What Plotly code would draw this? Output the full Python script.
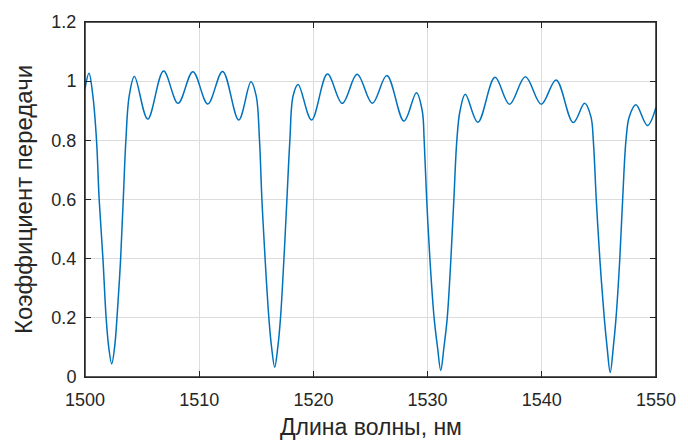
import plotly.graph_objects as go

wavelength = [
    1500.00, 1500.35, 1500.69, 1501.01, 1501.24, 1501.57, 1501.85, 1502.08, 1502.34,
    1502.59, 1502.80, 1503.12, 1503.35, 1503.58, 1503.87, 1504.33, 1505.49, 1506.88, 1508.15,
    1509.45, 1510.75, 1512.05, 1513.46, 1514.53, 1514.99, 1515.28, 1515.49, 1515.77,
    1516.10, 1516.34, 1516.61, 1516.88, 1517.12, 1517.42, 1517.68, 1517.94, 1518.22, 1518.66, 1519.84,
    1521.23, 1522.53, 1523.83, 1525.16, 1526.43, 1527.93, 1529.02, 1529.53, 1529.70,
    1529.92, 1530.20, 1530.57, 1530.87, 1531.15, 1531.43, 1531.72, 1532.04, 1532.30, 1532.56, 1532.84,
    1533.30, 1534.40, 1535.90, 1537.17, 1538.56, 1539.95, 1541.25, 1542.75,
    1543.75, 1544.30, 1544.51, 1544.77, 1545.08, 1545.47, 1545.72, 1545.99, 1546.26, 1546.50, 1546.83,
    1547.08, 1547.37, 1547.66, 1548.24, 1549.25, 1550.00,
]
transmission = [
    0.975, 1.027, 0.950, 0.800, 0.600, 0.400, 0.200, 0.100, 0.044,
    0.100, 0.200, 0.400, 0.600, 0.800, 0.950, 1.016, 0.872, 1.034, 0.925,
    1.032, 0.923, 1.033, 0.869, 0.998, 0.950, 0.800, 0.600, 0.400,
    0.200, 0.100, 0.033, 0.100, 0.200, 0.400, 0.600, 0.800, 0.950, 0.989, 0.869,
    1.024, 0.925, 1.023, 0.925, 1.019, 0.865, 0.961, 0.900, 0.800,
    0.600, 0.400, 0.200, 0.100, 0.022, 0.100, 0.200, 0.400, 0.600, 0.800, 0.900,
    0.956, 0.861, 1.013, 0.922, 1.015, 0.922, 1.004, 0.860,
    0.925, 0.880, 0.800, 0.600, 0.400, 0.200, 0.100, 0.015, 0.100, 0.200, 0.400,
    0.600, 0.800, 0.880, 0.920, 0.850, 0.912,
]

x_ticks = [1500, 1510, 1520, 1530, 1540, 1550]
y_ticks = [0, 0.2, 0.4, 0.6, 0.8, 1, 1.2]
y_tick_labels = ["0", "0.2", "0.4", "0.6", "0.8", "1", "1.2"]
x_title = "Длина волны, нм"
y_title = "Коэффициент передачи"

FONT = "Liberation Sans, Arial, sans-serif"
DARK = "#262626"

fig = go.Figure()
fig.add_trace(go.Scatter(
    x=wavelength, y=transmission, mode="lines",
    line=dict(color="#0072BD", width=1.5, shape="spline", smoothing=1.0),
    showlegend=False, hoverinfo="skip",
))

axis_common = dict(
    showline=True, linecolor=DARK, linewidth=1, mirror="ticks",
    ticks="inside", ticklen=6, tickcolor=DARK, tickwidth=1,
    showgrid=True, gridcolor="#dcdcdc", gridwidth=1, zeroline=False,
    tickfont=dict(family=FONT, size=18, color=DARK),
)

fig.update_layout(
    width=688, height=443,
    margin=dict(l=85, r=26, t=22, b=66),
    paper_bgcolor="white", plot_bgcolor="white",
    xaxis=dict(
        range=[1500, 1550], tickvals=x_ticks, ticktext=[str(v) for v in x_ticks],
        ticklabelstandoff=6,
        **axis_common,
    ),
    yaxis=dict(
        range=[0, 1.2], tickvals=y_ticks, ticktext=y_tick_labels,
        ticklabelstandoff=4,
        title=dict(text=y_title, standoff=11,
                   font=dict(family=FONT, size=24, color=DARK)),
        **axis_common,
    ),
    shapes=[dict(
        type="rect", xref="paper", yref="paper", x0=0, y0=0, x1=1, y1=1,
        line=dict(color=DARK, width=1.5), fillcolor="rgba(0,0,0,0)", layer="above",
    )],
    annotations=[dict(
        text=x_title, xref="paper", yref="paper", x=0.5, y=0,
        xanchor="center", yanchor="middle", yshift=-50, showarrow=False,
        font=dict(family=FONT, size=23, color=DARK),
    )],
)

fig.write_html("out.html")
